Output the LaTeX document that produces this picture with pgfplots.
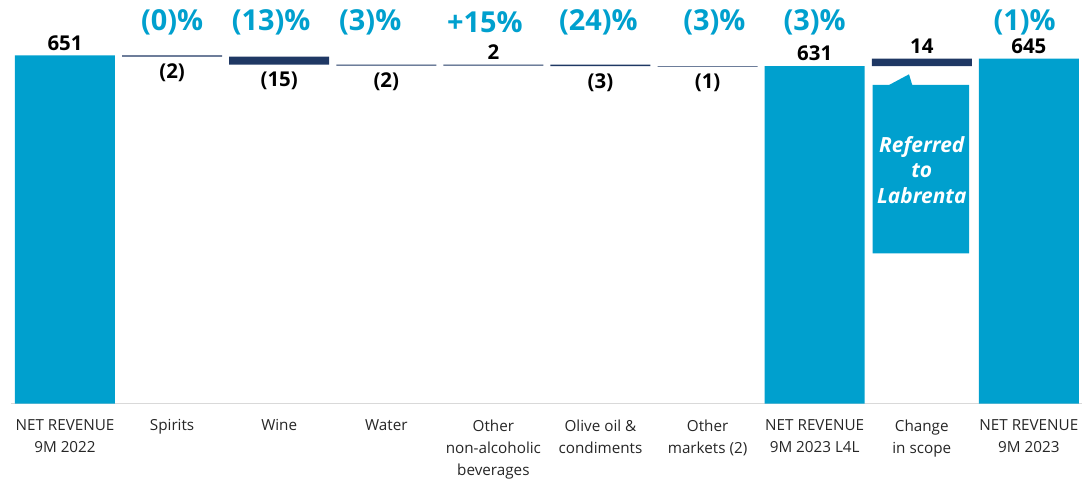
\documentclass[border=0pt]{standalone}
\usepackage{fontspec}
\setmainfont{Open Sans}
\usepackage{pgfplots}
\usepackage{pgfplotstable}
\pgfplotsset{compat=1.18}
\definecolor{cyanbar}{RGB}{0,160,206}
\definecolor{navybar}{RGB}{31,56,100}
\definecolor{basegray}{RGB}{217,217,217}

\pgfplotstableread{
x base total delta
0 0   651 0
1 649 0   2
2 634 0   15
3 632 0   2
4 632 0   2
5 631 0   3
6 630 0   1
7 0   631 0
8 631 0   14
9 0   645 0
}\wfdata

\tikzset{
  vlab/.style={font=\fontsize{20.5}{24}\selectfont\bfseries, inner sep=0pt, text=black},
  plab/.style={font=\fontsize{29}{34}\selectfont\bfseries, inner sep=0pt, text=cyanbar},
}

\begin{document}
\begin{tikzpicture}
\useasboundingbox (-11.45bp,-76.5bp) rectangle (1072.55bp,403.5bp);
\begin{axis}[
  at={(0,0)}, anchor=south west,
  scale only axis, width=1071bp, height=403.5bp,
  xmin=-0.5, xmax=9.5, ymin=0, ymax=754.8,
  ybar stacked, bar width=100bp,
  axis y line=none,
  axis x line*=bottom,
  x axis line style={draw=basegray, line width=0.8pt},
  xtick={0,...,9},
  xticklabels={{NET REVENUE\\9M 2022},Spirits,Wine,Water,{Other\\non-alcoholic\\beverages},{Olive oil \&\\condiments},{Other\\markets (2)},{NET REVENUE\\9M 2023 L4L},{Change\\in scope},{NET REVENUE\\9M 2023}},
  major tick length=0pt,
  xticklabel style={align=center, font=\fontsize{15.3}{22.3}\selectfont, anchor=north, inner sep=0pt, yshift=-16bp, text=black!85},
  ytick=\empty,
  clip=false,
]
\addplot[fill=none, draw=none, forget plot] table[x=x, y=base] {\wfdata};
\addplot[fill=cyanbar, draw=none] table[x=x, y=total] {\wfdata};
\addplot[fill=navybar, draw=none] table[x=x, y=delta] {\wfdata};

% callout
\fill[cyanbar] (axis cs:7.542,595.8) -- (axis cs:7.694,595.8) -- (axis cs:7.881,615.8) -- (axis cs:7.911,595.8) -- (axis cs:8.441,595.8) -- (axis cs:8.441,281) -- (axis cs:7.542,281) -- cycle;
\coordinate (calltext) at (axis cs:8,437);

% value labels
\node[vlab, anchor=south, yshift=5bp] at (axis cs:0,651) {651};
\node[vlab, anchor=north, yshift=-7bp] at (axis cs:1,649) {(2)};
\node[vlab, anchor=north, yshift=-7bp] at (axis cs:2,634) {(15)};
\node[vlab, anchor=north, yshift=-7bp] at (axis cs:3,632) {(2)};
\node[vlab, anchor=south, yshift=5bp] at (axis cs:4,634) {2};
\node[vlab, anchor=north, yshift=-7bp] at (axis cs:5,631) {(3)};
\node[vlab, anchor=north, yshift=-7bp] at (axis cs:6,630) {(1)};
\node[vlab, anchor=south, yshift=5bp] at (axis cs:7,631) {631};
\node[vlab, anchor=south, yshift=5bp] at (axis cs:8,645) {14};
\node[vlab, anchor=south, yshift=5bp] at (axis cs:9,645) {645};

% percentage labels
\node[plab] at (axis cs:1,713) {(0)\%};
\node[plab] at (axis cs:1.925,713) {(13)\%};
\node[plab] at (axis cs:2.85,713) {(3)\%};
\node[plab] at (axis cs:3.92,713) {+15\%};
\node[plab] at (axis cs:4.98,713) {(24)\%};
\node[plab] at (axis cs:6.063,713) {(3)\%};
\node[plab] at (axis cs:7,713) {(3)\%};
\node[plab] at (axis cs:8.96,713) {(1)\%};
\end{axis}
\node[font=\fontsize{21}{25.5}\selectfont\bfseries\itshape, text=white, align=center, inner sep=0pt] at (calltext) {Referred\\to\\Labrenta};
\end{tikzpicture}
\end{document}
